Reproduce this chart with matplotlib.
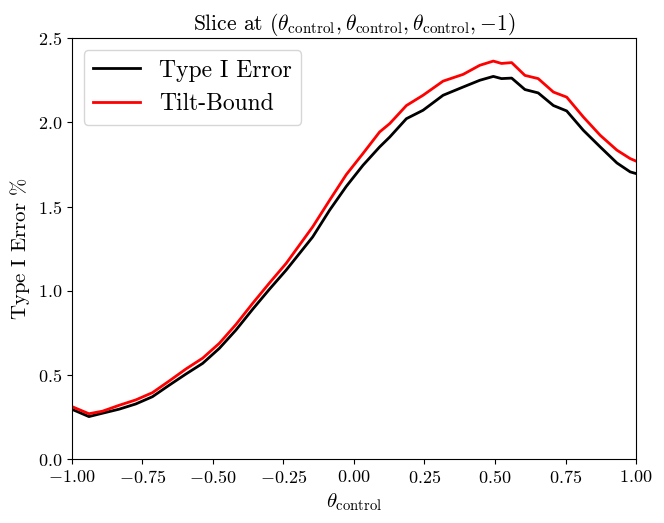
import numpy as np
import matplotlib
matplotlib.use('Agg')
import matplotlib.pyplot as plt

plt.rcParams['font.family'] = 'serif'
plt.rcParams['font.serif'] = ['cmr10']
plt.rcParams['mathtext.fontset'] = 'cm'
plt.rcParams['axes.formatter.use_mathtext'] = True

# theta_control grid and curves
theta = [-1.000, -0.939, -0.891, -0.832, -0.773, -0.714, -0.654, -0.595, -0.536, -0.477,
         -0.418, -0.359, -0.300, -0.240, -0.146, -0.086, -0.027, 0.032, 0.091, 0.127,
         0.186, 0.245, 0.316, 0.387, 0.446, 0.494, 0.523, 0.559, 0.606, 0.653,
         0.707, 0.754, 0.813, 0.873, 0.932, 0.979, 1.000]
type1_error = [0.297, 0.253, 0.273, 0.297, 0.328, 0.371, 0.440, 0.506, 0.569, 0.658,
               0.767, 0.890, 1.008, 1.123, 1.320, 1.479, 1.620, 1.745, 1.854, 1.913,
               2.022, 2.072, 2.161, 2.210, 2.250, 2.273, 2.260, 2.263, 2.195, 2.175,
               2.100, 2.068, 1.953, 1.854, 1.759, 1.706, 1.696]
tilt_bound = [0.313, 0.270, 0.285, 0.320, 0.352, 0.395, 0.465, 0.536, 0.600, 0.688,
              0.800, 0.925, 1.045, 1.163, 1.380, 1.538, 1.690, 1.815, 1.943, 1.993,
              2.100, 2.161, 2.245, 2.285, 2.339, 2.364, 2.350, 2.355, 2.279, 2.260,
              2.180, 2.150, 2.032, 1.923, 1.835, 1.785, 1.770]

fig = plt.figure(figsize=(6.64, 5.23), dpi=100)
ax = fig.add_axes([0.108, 0.122, 0.850, 0.805])
ax.plot(theta, type1_error, color='black', lw=2, label='Type I Error')
ax.plot(theta, tilt_bound, color='red', lw=2, label='Tilt-Bound')
ax.set_xlim(-1, 1)
ax.set_ylim(0, 2.5)
ax.set_xticks(np.arange(-1, 1.01, 0.25))
ax.set_yticks(np.arange(0, 2.51, 0.5))
ax.tick_params(labelsize=13)
ax.set_xlabel(r'$\theta_{\mathrm{control}}$', fontsize=15)
ax.set_ylabel(r'Type I Error $\%$', fontsize=15)
ax.set_title(r'Slice at $(\theta_{\mathrm{control}}, \theta_{\mathrm{control}}, \theta_{\mathrm{control}}, {-1})$',
             fontsize=15.5)
ax.legend(loc='upper left', fontsize=17)
fig.savefig('out.png', dpi=100)
